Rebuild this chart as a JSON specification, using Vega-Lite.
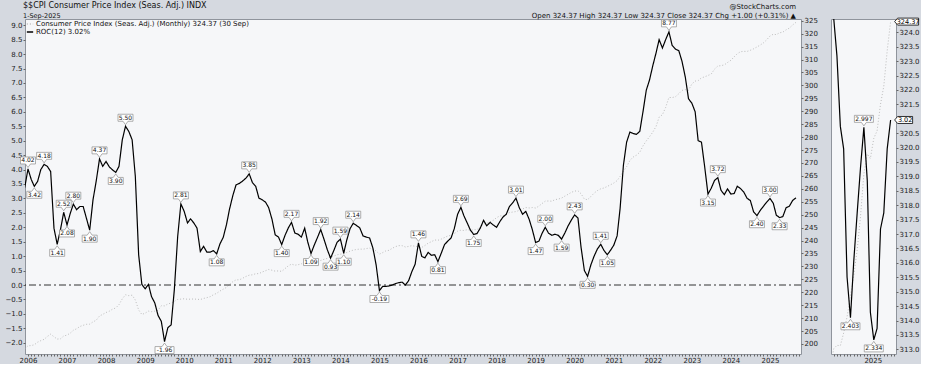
{
"$schema": "https://vega.github.io/schema/vega-lite/v6.json",
"background": "#d5d9e0",
"padding": {"left": 4, "top": 1, "right": 0, "bottom": 0},
"bounds": "flush",
"spacing": 30,
"config": {"font": "DejaVu Sans", "view": {"fill": "#f6f7f9", "stroke": "#8f949c", "strokeWidth": 1},
  "axis": {"labelFont": "DejaVu Sans", "labelFontSize": 7, "labelColor": "#222222", "tickColor": "#666666", "domain": false, "grid": false, "tickSize": 2, "labelPadding": 1, "labelOverlap": false}},
"datasets": {
"m": [
{"d":"2005-12-01","cpi":198.1,"roc":3.37},
{"d":"2006-01-01","cpi":199.3,"roc":4.02},{"d":"2006-02-01","cpi":199.4,"roc":3.65},{"d":"2006-03-01","cpi":199.7,"roc":3.42},{"d":"2006-04-01","cpi":200.7,"roc":3.59},{"d":"2006-05-01","cpi":201.3,"roc":4.0},{"d":"2006-06-01","cpi":201.8,"roc":4.18},{"d":"2006-07-01","cpi":202.9,"roc":4.11},{"d":"2006-08-01","cpi":203.8,"roc":3.93},{"d":"2006-09-01","cpi":202.8,"roc":1.97},{"d":"2006-10-01","cpi":201.9,"roc":1.41},{"d":"2006-11-01","cpi":202.0,"roc":1.92},{"d":"2006-12-01","cpi":203.1,"roc":2.52},
{"d":"2007-01-01","cpi":203.44,"roc":2.08},{"d":"2007-02-01","cpi":204.23,"roc":2.49},{"d":"2007-03-01","cpi":205.29,"roc":2.80},{"d":"2007-04-01","cpi":205.90,"roc":2.61},{"d":"2007-05-01","cpi":206.76,"roc":2.72},{"d":"2007-06-01","cpi":207.23,"roc":2.72},{"d":"2007-07-01","cpi":207.60,"roc":2.32},{"d":"2007-08-01","cpi":207.67,"roc":1.90},{"d":"2007-09-01","cpi":208.55,"roc":2.95},{"d":"2007-10-01","cpi":209.19,"roc":3.6},{"d":"2007-11-01","cpi":210.83,"roc":4.37},{"d":"2007-12-01","cpi":211.45,"roc":4.11},
{"d":"2008-01-01","cpi":212.17,"roc":4.28},{"d":"2008-02-01","cpi":212.69,"roc":4.09},{"d":"2008-03-01","cpi":213.45,"roc":3.99},{"d":"2008-04-01","cpi":213.94,"roc":3.90},{"d":"2008-05-01","cpi":215.21,"roc":4.11},{"d":"2008-06-01","cpi":217.46,"roc":5.03},{"d":"2008-07-01","cpi":219.02,"roc":5.50},{"d":"2008-08-01","cpi":218.69,"roc":5.32},{"d":"2008-09-01","cpi":218.88,"roc":5.03},{"d":"2008-10-01","cpi":217.00,"roc":3.76},{"d":"2008-11-01","cpi":213.15,"roc":1.05},{"d":"2008-12-01","cpi":211.40,"roc":0.02},
{"d":"2009-01-01","cpi":211.93,"roc":-0.13},{"d":"2009-02-01","cpi":212.71,"roc":0.02},{"d":"2009-03-01","cpi":212.50,"roc":-0.4},{"d":"2009-04-01","cpi":212.71,"roc":-0.62},{"d":"2009-05-01","cpi":213.02,"roc":-1.05},{"d":"2009-06-01","cpi":214.79,"roc":-1.26},{"d":"2009-07-01","cpi":214.73,"roc":-1.96},{"d":"2009-08-01","cpi":215.45,"roc":-1.48},{"d":"2009-09-01","cpi":215.86,"roc":-1.38},{"d":"2009-10-01","cpi":216.51,"roc":-0.15},{"d":"2009-11-01","cpi":217.23,"roc":1.68},{"d":"2009-12-01","cpi":217.35,"roc":2.81},
{"d":"2010-01-01","cpi":217.49,"roc":2.55},{"d":"2010-02-01","cpi":217.28,"roc":2.15},{"d":"2010-03-01","cpi":217.35,"roc":2.29},{"d":"2010-04-01","cpi":217.40,"roc":2.15},{"d":"2010-05-01","cpi":217.29,"roc":1.97},{"d":"2010-06-01","cpi":217.20,"roc":1.16},{"d":"2010-07-01","cpi":217.61,"roc":1.34},{"d":"2010-08-01","cpi":217.92,"roc":1.14},{"d":"2010-09-01","cpi":218.28,"roc":1.14},{"d":"2010-10-01","cpi":219.04,"roc":1.19},{"d":"2010-11-01","cpi":219.59,"roc":1.08},{"d":"2010-12-01","cpi":220.47,"roc":1.42},
{"d":"2011-01-01","cpi":221.19,"roc":1.65},{"d":"2011-02-01","cpi":221.90,"roc":2.1},{"d":"2011-03-01","cpi":223.05,"roc":2.63},{"d":"2011-04-01","cpi":224.09,"roc":3.1},{"d":"2011-05-01","cpi":224.81,"roc":3.47},{"d":"2011-06-01","cpi":224.81,"roc":3.52},{"d":"2011-07-01","cpi":225.40,"roc":3.6},{"d":"2011-08-01","cpi":226.11,"roc":3.7},{"d":"2011-09-01","cpi":226.60,"roc":3.85},{"d":"2011-10-01","cpi":226.75,"roc":3.55},{"d":"2011-11-01","cpi":227.17,"roc":3.42},{"d":"2011-12-01","cpi":227.22,"roc":3.01},
{"d":"2012-01-01","cpi":227.84,"roc":2.95},{"d":"2012-02-01","cpi":228.33,"roc":2.87},{"d":"2012-03-01","cpi":228.81,"roc":2.68},{"d":"2012-04-01","cpi":228.52,"roc":2.28},{"d":"2012-05-01","cpi":228.16,"roc":1.74},{"d":"2012-06-01","cpi":228.26,"roc":1.66},{"d":"2012-07-01","cpi":228.08,"roc":1.40},{"d":"2012-08-01","cpi":229.15,"roc":1.72},{"d":"2012-09-01","cpi":230.24,"roc":1.98},{"d":"2012-10-01","cpi":230.89,"roc":2.17},{"d":"2012-11-01","cpi":230.48,"roc":1.8},{"d":"2012-12-01","cpi":230.65,"roc":1.76},
{"d":"2013-01-01","cpi":230.98,"roc":1.66},{"d":"2013-02-01","cpi":232.05,"roc":1.97},{"d":"2013-03-01","cpi":231.70,"roc":1.5},{"d":"2013-04-01","cpi":231.20,"roc":1.09},{"d":"2013-05-01","cpi":231.43,"roc":1.38},{"d":"2013-06-01","cpi":231.98,"roc":1.65},{"d":"2013-07-01","cpi":232.31,"roc":1.92},{"d":"2013-08-01","cpi":232.74,"roc":1.58},{"d":"2013-09-01","cpi":233.11,"roc":1.22},{"d":"2013-10-01","cpi":233.57,"roc":0.93},{"d":"2013-11-01","cpi":233.99,"roc":1.2},{"d":"2013-12-01","cpi":234.51,"roc":1.48},
{"d":"2014-01-01","cpi":234.72,"roc":1.59},{"d":"2014-02-01","cpi":235.00,"roc":1.10},{"d":"2014-03-01","cpi":235.38,"roc":1.55},{"d":"2014-04-01","cpi":235.89,"roc":1.95},{"d":"2014-05-01","cpi":236.30,"roc":2.14},{"d":"2014-06-01","cpi":236.55,"roc":2.06},{"d":"2014-07-01","cpi":236.69,"roc":1.98},{"d":"2014-08-01","cpi":236.65,"roc":1.7},{"d":"2014-09-01","cpi":236.90,"roc":1.66},{"d":"2014-10-01","cpi":237.09,"roc":1.63},{"d":"2014-11-01","cpi":236.61,"roc":1.28},{"d":"2014-12-01","cpi":235.98,"roc":0.7},
{"d":"2015-01-01","cpi":234.75,"roc":-0.19},{"d":"2015-02-01","cpi":235.34,"roc":-0.05},{"d":"2015-03-01","cpi":235.98,"roc":-0.05},{"d":"2015-04-01","cpi":236.22,"roc":-0.03},{"d":"2015-05-01","cpi":237.00,"roc":0.0},{"d":"2015-06-01","cpi":237.66,"roc":0.05},{"d":"2015-07-01","cpi":238.03,"roc":0.08},{"d":"2015-08-01","cpi":238.03,"roc":0.1},{"d":"2015-09-01","cpi":237.50,"roc":0.0},{"d":"2015-10-01","cpi":237.73,"roc":0.15},{"d":"2015-11-01","cpi":238.02,"roc":0.47},{"d":"2015-12-01","cpi":237.76,"roc":0.72},
{"d":"2016-01-01","cpi":237.65,"roc":1.46},{"d":"2016-02-01","cpi":237.34,"roc":0.99},{"d":"2016-03-01","cpi":238.08,"roc":0.94},{"d":"2016-04-01","cpi":238.99,"roc":1.13},{"d":"2016-05-01","cpi":239.56,"roc":1.03},{"d":"2016-06-01","cpi":240.22,"roc":1.05},{"d":"2016-07-01","cpi":240.10,"roc":0.81},{"d":"2016-08-01","cpi":240.55,"roc":1.1},{"d":"2016-09-01","cpi":241.18,"roc":1.40},{"d":"2016-10-01","cpi":241.74,"roc":1.52},{"d":"2016-11-01","cpi":242.03,"roc":1.63},{"d":"2016-12-01","cpi":242.64,"roc":1.95},
{"d":"2017-01-01","cpi":243.62,"roc":2.45},{"d":"2017-02-01","cpi":244.01,"roc":2.69},{"d":"2017-03-01","cpi":243.89,"roc":2.4},{"d":"2017-04-01","cpi":244.19,"roc":2.15},{"d":"2017-05-01","cpi":244.00,"roc":1.9},{"d":"2017-06-01","cpi":244.16,"roc":1.75},{"d":"2017-07-01","cpi":244.24,"roc":1.78},{"d":"2017-08-01","cpi":245.18,"roc":1.97},{"d":"2017-09-01","cpi":246.44,"roc":2.24},{"d":"2017-10-01","cpi":246.63,"roc":2.05},{"d":"2017-11-01","cpi":247.28,"roc":2.17},{"d":"2017-12-01","cpi":247.81,"roc":2.08},
{"d":"2018-01-01","cpi":248.86,"roc":2.0},{"d":"2018-02-01","cpi":249.53,"roc":2.2},{"d":"2018-03-01","cpi":249.58,"roc":2.35},{"d":"2018-04-01","cpi":250.23,"roc":2.45},{"d":"2018-05-01","cpi":250.79,"roc":2.72},{"d":"2018-06-01","cpi":251.02,"roc":2.85},{"d":"2018-07-01","cpi":251.21,"roc":3.01},{"d":"2018-08-01","cpi":251.66,"roc":2.68},{"d":"2018-09-01","cpi":252.18,"roc":2.45},{"d":"2018-10-01","cpi":252.77,"roc":2.55},{"d":"2018-11-01","cpi":252.59,"roc":2.28},{"d":"2018-12-01","cpi":252.77,"roc":1.92},
{"d":"2019-01-01","cpi":252.56,"roc":1.47},{"d":"2019-02-01","cpi":253.32,"roc":1.52},{"d":"2019-03-01","cpi":254.28,"roc":1.78},{"d":"2019-04-01","cpi":255.23,"roc":2.00},{"d":"2019-05-01","cpi":255.30,"roc":1.8},{"d":"2019-06-01","cpi":255.21,"roc":1.72},{"d":"2019-07-01","cpi":255.80,"roc":1.76},{"d":"2019-08-01","cpi":256.04,"roc":1.72},{"d":"2019-09-01","cpi":256.43,"roc":1.59},{"d":"2019-10-01","cpi":257.16,"roc":1.8},{"d":"2019-11-01","cpi":257.88,"roc":2.05},{"d":"2019-12-01","cpi":258.63,"roc":2.25},
{"d":"2020-01-01","cpi":259.13,"roc":2.43},{"d":"2020-02-01","cpi":259.25,"roc":2.32},{"d":"2020-03-01","cpi":258.08,"roc":1.3},{"d":"2020-04-01","cpi":256.03,"roc":0.5},{"d":"2020-05-01","cpi":255.80,"roc":0.30},{"d":"2020-06-01","cpi":257.04,"roc":0.70},{"d":"2020-07-01","cpi":258.35,"roc":1.0},{"d":"2020-08-01","cpi":259.32,"roc":1.25},{"d":"2020-09-01","cpi":260.00,"roc":1.41},{"d":"2020-10-01","cpi":260.32,"roc":1.2},{"d":"2020-11-01","cpi":260.91,"roc":1.05},{"d":"2020-12-01","cpi":261.56,"roc":1.2},
{"d":"2021-01-01","cpi":262.23,"roc":1.38},{"d":"2021-02-01","cpi":263.16,"roc":1.7},{"d":"2021-03-01","cpi":264.79,"roc":2.65},{"d":"2021-04-01","cpi":266.83,"roc":4.15},{"d":"2021-05-01","cpi":268.55,"roc":4.95},{"d":"2021-06-01","cpi":270.98,"roc":5.3},{"d":"2021-07-01","cpi":272.27,"roc":5.25},{"d":"2021-08-01","cpi":273.01,"roc":5.22},{"d":"2021-09-01","cpi":274.14,"roc":5.32},{"d":"2021-10-01","cpi":276.59,"roc":6.0},{"d":"2021-11-01","cpi":278.52,"roc":6.75},{"d":"2021-12-01","cpi":280.13,"roc":7.1},
{"d":"2022-01-01","cpi":281.93,"roc":7.6},{"d":"2022-02-01","cpi":284.18,"roc":8.05},{"d":"2022-03-01","cpi":287.71,"roc":8.5},{"d":"2022-04-01","cpi":288.66,"roc":8.21},{"d":"2022-05-01","cpi":291.47,"roc":8.5},{"d":"2022-06-01","cpi":295.33,"roc":8.77},{"d":"2022-07-01","cpi":295.27,"roc":8.3},{"d":"2022-08-01","cpi":295.62,"roc":8.17},{"d":"2022-09-01","cpi":296.76,"roc":8.12},{"d":"2022-10-01","cpi":298.06,"roc":7.75},{"d":"2022-11-01","cpi":298.35,"roc":7.2},{"d":"2022-12-01","cpi":298.11,"roc":6.45},
{"d":"2023-01-01","cpi":300.54,"roc":6.3},{"d":"2023-02-01","cpi":301.65,"roc":6.0},{"d":"2023-03-01","cpi":301.81,"roc":5.0},{"d":"2023-04-01","cpi":302.92,"roc":4.95},{"d":"2023-05-01","cpi":303.29,"roc":4.1},{"d":"2023-06-01","cpi":303.84,"roc":3.15},{"d":"2023-07-01","cpi":304.35,"roc":3.35},{"d":"2023-08-01","cpi":306.27,"roc":3.62},{"d":"2023-09-01","cpi":307.48,"roc":3.72},{"d":"2023-10-01","cpi":307.62,"roc":3.28},{"d":"2023-11-01","cpi":307.92,"roc":3.13},{"d":"2023-12-01","cpi":308.85,"roc":3.33},
{"d":"2024-01-01","cpi":309.69,"roc":3.15},{"d":"2024-02-01","cpi":311.05,"roc":3.17},{"d":"2024-03-01","cpi":312.23,"roc":3.42},{"d":"2024-04-01","cpi":313.02,"roc":3.34},{"d":"2024-05-01","cpi":313.14,"roc":3.22},{"d":"2024-06-01","cpi":313.13,"roc":3.0},{"d":"2024-07-01","cpi":313.57,"roc":2.93},{"d":"2024-08-01","cpi":314.13,"roc":2.53},{"d":"2024-09-01","cpi":314.85,"roc":2.403},{"d":"2024-10-01","cpi":315.56,"roc":2.58},{"d":"2024-11-01","cpi":316.45,"roc":2.73},{"d":"2024-12-01","cpi":317.60,"roc":2.87},
{"d":"2025-01-01","cpi":319.09,"roc":2.997},{"d":"2025-02-01","cpi":319.78,"roc":2.83},{"d":"2025-03-01","cpi":319.62,"roc":2.42},{"d":"2025-04-01","cpi":320.32,"roc":2.334},{"d":"2025-05-01","cpi":320.58,"roc":2.37},{"d":"2025-06-01","cpi":321.50,"roc":2.68},{"d":"2025-07-01","cpi":322.13,"roc":2.73},{"d":"2025-08-01","cpi":323.36,"roc":2.93},{"d":"2025-09-01","cpi":324.37,"roc":3.02}
],
"lab": [
{"d":"2006-01-01","roc":4.02,"t":"4.02","kind":"peak"},{"d":"2006-03-01","roc":3.42,"t":"3.42","kind":"trough"},{"d":"2006-06-01","roc":4.18,"t":"4.18","kind":"peak"},{"d":"2006-10-01","roc":1.41,"t":"1.41","kind":"trough"},{"d":"2006-12-01","roc":2.52,"t":"2.52","kind":"peak"},{"d":"2007-01-01","roc":2.08,"t":"2.08","kind":"trough"},{"d":"2007-03-01","roc":2.80,"t":"2.80","kind":"peak"},{"d":"2007-08-01","roc":1.90,"t":"1.90","kind":"trough"},{"d":"2007-11-01","roc":4.37,"t":"4.37","kind":"peak"},{"d":"2008-04-01","roc":3.90,"t":"3.90","kind":"trough"},{"d":"2008-07-01","roc":5.50,"t":"5.50","kind":"peak"},{"d":"2009-07-01","roc":-1.96,"t":"-1.96","kind":"trough5"},{"d":"2009-12-01","roc":2.81,"t":"2.81","kind":"peak"},{"d":"2010-11-01","roc":1.08,"t":"1.08","kind":"trough"},{"d":"2011-09-01","roc":3.85,"t":"3.85","kind":"peak"},{"d":"2012-07-01","roc":1.40,"t":"1.40","kind":"trough"},{"d":"2012-10-01","roc":2.17,"t":"2.17","kind":"peak"},{"d":"2013-04-01","roc":1.09,"t":"1.09","kind":"trough"},{"d":"2013-07-01","roc":1.92,"t":"1.92","kind":"peak"},{"d":"2013-10-01","roc":0.93,"t":"0.93","kind":"trough"},{"d":"2014-01-01","roc":1.59,"t":"1.59","kind":"peak"},{"d":"2014-02-01","roc":1.10,"t":"1.10","kind":"trough"},{"d":"2014-05-01","roc":2.14,"t":"2.14","kind":"peak"},{"d":"2015-01-01","roc":-0.19,"t":"-0.19","kind":"trough5"},{"d":"2016-01-01","roc":1.46,"t":"1.46","kind":"peak"},{"d":"2016-07-01","roc":0.81,"t":"0.81","kind":"trough"},{"d":"2017-02-01","roc":2.69,"t":"2.69","kind":"peak"},{"d":"2017-06-01","roc":1.75,"t":"1.75","kind":"trough"},{"d":"2018-07-01","roc":3.01,"t":"3.01","kind":"peak"},{"d":"2019-01-01","roc":1.47,"t":"1.47","kind":"trough"},{"d":"2019-04-01","roc":2.00,"t":"2.00","kind":"peak"},{"d":"2019-09-01","roc":1.59,"t":"1.59","kind":"trough"},{"d":"2020-01-01","roc":2.43,"t":"2.43","kind":"peak"},{"d":"2020-05-01","roc":0.30,"t":"0.30","kind":"trough"},{"d":"2020-09-01","roc":1.41,"t":"1.41","kind":"peak"},{"d":"2020-11-01","roc":1.05,"t":"1.05","kind":"trough"},{"d":"2022-06-01","roc":8.77,"t":"8.77","kind":"peak"},{"d":"2023-06-01","roc":3.15,"t":"3.15","kind":"trough"},{"d":"2023-09-01","roc":3.72,"t":"3.72","kind":"peak"},{"d":"2024-09-01","roc":2.40,"t":"2.40","kind":"trough"},{"d":"2025-01-01","roc":3.00,"t":"3.00","kind":"peak"},{"d":"2025-04-01","roc":2.33,"t":"2.33","kind":"trough"}
],
"lab2": [
{"d":"2024-09-01","roc":2.403,"t":"2.403","kind":"trough5"},{"d":"2025-01-01","roc":2.997,"t":"2.997","kind":"peak5"},{"d":"2025-04-01","roc":2.334,"t":"2.334","kind":"trough5"}
]
},
"hconcat": [
{
 "width": 776, "height": 335,
 "title": {"text": "$$CPI Consumer Price Index (Seas. Adj.) INDX", "subtitle": "1-Sep-2025", "anchor": "start", "frame": "group", "font": "DejaVu Sans", "fontSize": 8, "fontWeight": "normal", "color": "#111111", "subtitleFont": "DejaVu Sans", "subtitleFontSize": 6.5, "subtitleColor": "#111111", "subtitlePadding": 3, "offset": -3, "dx": -2},
 "layer": [
  {"layer": [
   {"data": {"name": "m"},
    "mark": {"type": "line", "clip": true, "strokeWidth": 1},
    "encoding": {
     "x": {"field": "d", "type": "temporal", "scale": {"type": "utc", "nice": false, "domain": [{"year": 2005, "month": 12, "date": 4, "utc": true}, {"year": 2025, "month": 10, "date": 18, "utc": true}]},
       "axis": {"orient": "bottom", "title": null, "tickCount": {"interval": "month", "step": 1}, "labelExpr": "utcFormat(datum.value, '%m') == '01' ? utcFormat(datum.value, '%Y') : ''", "labelOverlap": false, "labelFlush": false, "tickSize": 2, "labelPadding": 0}},
     "y": {"field": "cpi", "type": "quantitative", "scale": {"domain": [196.13, 325.66], "zero": false, "nice": false},
       "axis": {"orient": "right", "title": null, "values": [200,205,210,215,220,225,230,235,240,245,250,255,260,265,270,275,280,285,290,295,300,305,310,315,320,325], "tickCount": 100, "format": "d", "labelOverlap": false}},
     "color": {"datum": "Consumer Price Index (Seas. Adj.) (Monthly) 324.37 (30 Sep)", "type": "nominal",
       "scale": {"domain": ["Consumer Price Index (Seas. Adj.) (Monthly) 324.37 (30 Sep)", "ROC(12) 3.02%"], "range": ["#bcbcbc", "#000000"]},
       "legend": {"orient": "top-left", "title": null, "offset": 1, "padding": 0, "labelFont": "DejaVu Sans", "labelFontSize": 7, "labelColor": "#111111", "symbolType": "stroke", "symbolSize": 40, "symbolStrokeWidth": 1.6, "rowPadding": 0, "labelOffset": 2, "labelLimit": 500}},
     "strokeDash": {"datum": "Consumer Price Index (Seas. Adj.) (Monthly) 324.37 (30 Sep)", "type": "nominal",
       "scale": {"domain": ["Consumer Price Index (Seas. Adj.) (Monthly) 324.37 (30 Sep)", "ROC(12) 3.02%"], "range": [[1, 2], [1, 0]]},
       "legend": {"orient": "top-left", "title": null, "offset": 1, "padding": 0, "labelFont": "DejaVu Sans", "labelFontSize": 7, "labelColor": "#111111", "symbolType": "stroke", "symbolSize": 40, "symbolStrokeWidth": 1.6, "rowPadding": 0, "labelOffset": 2, "labelLimit": 500}}
    }}
  ]},
  {"layer": [
   {"data": {"values": [{}]},
    "mark": {"type": "rule", "color": "#000000", "strokeWidth": 0.8, "strokeDash": [7, 3, 2, 3]},
    "encoding": {"y": {"datum": 0, "type": "quantitative"}}},
   {"data": {"name": "m"},
    "mark": {"type": "line", "clip": true, "strokeWidth": 1.2},
    "encoding": {
     "x": {"field": "d", "type": "temporal"},
     "y": {"field": "roc", "type": "quantitative", "scale": {"domain": [-2.39, 9.215], "zero": false, "nice": false},
       "axis": {"orient": "left", "title": null, "values": [-2,-1.5,-1,-0.5,0,0.5,1,1.5,2,2.5,3,3.5,4,4.5,5,5.5,6,6.5,7,7.5,8,8.5,9], "tickCount": 100, "format": ".1f", "labelOverlap": false}},
     "color": {"datum": "ROC(12) 3.02%", "type": "nominal"},
     "strokeDash": {"datum": "ROC(12) 3.02%", "type": "nominal"}
    }},
   {"data": {"name": "lab"},
    "mark": {"type": "point", "filled": true, "color": "#8c8c8c", "fill": "#ffffff", "stroke": "#8c8c8c", "strokeWidth": 0.7, "opacity": 1, "fillOpacity": 1, "strokeOpacity": 1, "size": 4},
    "encoding": {
     "x": {"field": "d", "type": "temporal"},
     "y": {"field": "roc", "type": "quantitative"},
     "shape": {"field": "kind", "type": "nominal", "legend": null,
       "scale": {"domain": ["peak", "trough", "peak5", "trough5"],
         "range": ["M-7.5,-12H7.5V-5H2.5L0,-1.5L-2.5,-5H-7.5Z", "M-7.5,12H7.5V5H2.5L0,1.5L-2.5,5H-7.5Z", "M-9.5,-12H9.5V-5H2.5L0,-1.5L-2.5,-5H-9.5Z", "M-9.5,12H9.5V5H2.5L0,1.5L-2.5,5H-9.5Z"]}}
    }},
   {"data": {"name": "lab"},
    "transform": [{"filter": "test(/^peak/, datum.kind)"}],
    "mark": {"type": "text", "font": "DejaVu Sans", "fontSize": 6, "color": "#111111", "dy": -8.5},
    "encoding": {"x": {"field": "d", "type": "temporal"}, "y": {"field": "roc", "type": "quantitative"}, "text": {"field": "t"}}},
   {"data": {"name": "lab"},
    "transform": [{"filter": "test(/^trough/, datum.kind)"}],
    "mark": {"type": "text", "font": "DejaVu Sans", "fontSize": 6, "color": "#111111", "dy": 8.5},
    "encoding": {"x": {"field": "d", "type": "temporal"}, "y": {"field": "roc", "type": "quantitative"}, "text": {"field": "t"}}}
  ]}
 ],
 "resolve": {"scale": {"y": "independent"}}
},
{
 "width": 65, "height": 335,
 "title": {"text": ["@StockCharts.com", "Open 324.37  High 324.37  Low 324.37  Close 324.37  Chg +1.00 (+0.31%) ▲"], "anchor": "end", "frame": "group", "dx": -100, "font": "DejaVu Sans", "fontSize": 7, "lineHeight": 9, "fontWeight": "normal", "color": "#111111", "offset": -3},
 "layer": [
  {"layer": [
   {"data": {"name": "m"},
    "mark": {"type": "line", "clip": true, "strokeWidth": 1, "color": "#bcbcbc", "strokeDash": [1, 2]},
    "encoding": {
     "x": {"field": "d", "type": "temporal", "scale": {"type": "utc", "nice": false, "domain": [{"year": 2024, "month": 3, "date": 8, "utc": true}, {"year": 2025, "month": 10, "date": 20, "utc": true}]},
       "axis": {"orient": "bottom", "title": null, "tickCount": {"interval": "month", "step": 1}, "labelExpr": "utcFormat(datum.value, '%m') == '01' ? utcFormat(datum.value, '%Y') : ''", "labelOverlap": false, "labelFlush": false, "labelAlign": "left", "tickSize": 2, "labelPadding": 0}},
     "y": {"field": "cpi", "type": "quantitative", "scale": {"domain": [312.84, 324.46], "zero": false, "nice": false},
       "axis": {"orient": "right", "title": null, "values": [313,313.5,314,314.5,315,315.5,316,316.5,317,317.5,318,318.5,319,319.5,320,320.5,321.5,322,322.5,323,323.5,324], "tickCount": 100, "format": ".1f", "labelOverlap": false}}
    }},
   {"data": {"values": [{"d": "2025-09-01", "cpi": 324.37, "t": "324.37"}]},
    "mark": {"type": "point", "filled": true, "color": "#000000", "fill": "#ffffff", "stroke": "#000000", "strokeWidth": 0.8, "opacity": 1, "fillOpacity": 1, "size": 4, "shape": "M4,0L7,-3.5H28V3.5H7Z"},
    "encoding": {"x": {"field": "d", "type": "temporal"}, "y": {"field": "cpi", "type": "quantitative"}}},
   {"data": {"values": [{"d": "2025-09-01", "cpi": 324.37, "t": "324.37"}]},
    "mark": {"type": "text", "font": "DejaVu Sans", "fontSize": 6.5, "color": "#000000", "dx": 17.5},
    "encoding": {"x": {"field": "d", "type": "temporal"}, "y": {"field": "cpi", "type": "quantitative"}, "text": {"field": "t"}}}
  ]},
  {"layer": [
   {"data": {"name": "m"},
    "mark": {"type": "line", "clip": true, "strokeWidth": 1.2, "color": "#000000"},
    "encoding": {
     "x": {"field": "d", "type": "temporal"},
     "y": {"field": "roc", "type": "quantitative", "scale": {"domain": [2.29, 3.335], "zero": false, "nice": false}, "axis": null}
    }},
   {"data": {"name": "lab2"},
    "mark": {"type": "point", "filled": true, "color": "#8c8c8c", "fill": "#ffffff", "stroke": "#8c8c8c", "strokeWidth": 0.7, "opacity": 1, "fillOpacity": 1, "size": 4},
    "encoding": {
     "x": {"field": "d", "type": "temporal"},
     "y": {"field": "roc", "type": "quantitative"},
     "shape": {"field": "kind", "type": "nominal", "legend": null,
       "scale": {"domain": ["peak", "trough", "peak5", "trough5"],
         "range": ["M-7.5,-12H7.5V-5H2.5L0,-1.5L-2.5,-5H-7.5Z", "M-7.5,12H7.5V5H2.5L0,1.5L-2.5,5H-7.5Z", "M-9.5,-12H9.5V-5H2.5L0,-1.5L-2.5,-5H-9.5Z", "M-9.5,12H9.5V5H2.5L0,1.5L-2.5,5H-9.5Z"]}}
    }},
   {"data": {"name": "lab2"},
    "transform": [{"filter": "test(/^peak/, datum.kind)"}],
    "mark": {"type": "text", "font": "DejaVu Sans", "fontSize": 6, "color": "#111111", "dy": -8.5},
    "encoding": {"x": {"field": "d", "type": "temporal"}, "y": {"field": "roc", "type": "quantitative"}, "text": {"field": "t"}}},
   {"data": {"name": "lab2"},
    "transform": [{"filter": "test(/^trough/, datum.kind)"}],
    "mark": {"type": "text", "font": "DejaVu Sans", "fontSize": 6, "color": "#111111", "dy": 8.5},
    "encoding": {"x": {"field": "d", "type": "temporal"}, "y": {"field": "roc", "type": "quantitative"}, "text": {"field": "t"}}},
   {"data": {"values": [{"d": "2025-09-01", "roc": 3.02, "t": "3.02"}]},
    "mark": {"type": "point", "filled": true, "color": "#000000", "fill": "#ffffff", "stroke": "#000000", "strokeWidth": 0.8, "opacity": 1, "fillOpacity": 1, "size": 4, "shape": "M4,0L7,-3.5H22V3.5H7Z"},
    "encoding": {"x": {"field": "d", "type": "temporal"}, "y": {"field": "roc", "type": "quantitative"}}},
   {"data": {"values": [{"d": "2025-09-01", "roc": 3.02, "t": "3.02"}]},
    "mark": {"type": "text", "font": "DejaVu Sans", "fontSize": 6.5, "color": "#000000", "dx": 14.5},
    "encoding": {"x": {"field": "d", "type": "temporal"}, "y": {"field": "roc", "type": "quantitative"}, "text": {"field": "t"}}}
  ]}
 ],
 "resolve": {"scale": {"y": "independent"}}
}
]
}
